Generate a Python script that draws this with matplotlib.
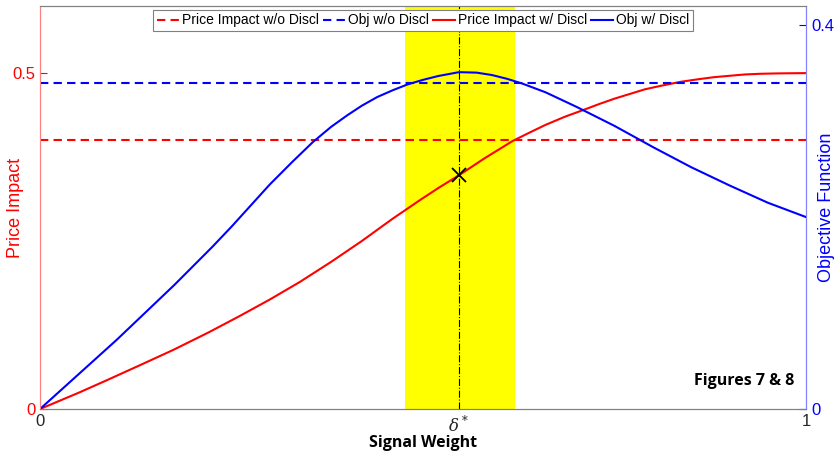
import matplotlib.pyplot as plt
import numpy as np

plt.rcParams['font.family'] = ['Liberation Sans', 'DejaVu Sans']
plt.rcParams['mathtext.fontset'] = 'dejavuserif'

# curves
w_red = [0, 0.05, 0.0875, 0.13, 0.174, 0.22, 0.26, 0.30, 0.339, 0.38, 0.42,
         0.46, 0.496, 0.52, 0.547, 0.58, 0.617, 0.64, 0.66, 0.685, 0.709, 0.73,
         0.75, 0.77, 0.79, 0.81, 0.836, 0.86, 0.88, 0.90, 0.92, 0.94, 0.96, 0.98, 1.0]
impact_disc = [0, 0.024, 0.043, 0.065, 0.088, 0.114, 0.138, 0.163, 0.189, 0.219,
               0.250, 0.283, 0.311, 0.329, 0.348, 0.373, 0.399, 0.412, 0.423,
               0.435, 0.445, 0.454, 0.462, 0.469, 0.476, 0.481, 0.487, 0.491,
               0.494, 0.496, 0.498, 0.499, 0.4995, 0.4998, 0.5]

w_blue = [0, 0.025, 0.05, 0.075, 0.10, 0.125, 0.15, 0.175, 0.20, 0.225, 0.25,
          0.275, 0.30, 0.33, 0.356, 0.38, 0.401, 0.42, 0.44, 0.46, 0.479, 0.50,
          0.52, 0.547, 0.57, 0.59, 0.61, 0.63, 0.66, 0.70, 0.75, 0.80, 0.85,
          0.90, 0.95, 1.0]
obj_disc = [0, 0.018, 0.036, 0.054, 0.072, 0.091, 0.110, 0.129, 0.149, 0.169,
            0.190, 0.212, 0.234, 0.258, 0.278, 0.294, 0.306, 0.316, 0.325,
            0.332, 0.338, 0.343, 0.347, 0.351, 0.3505, 0.348, 0.344, 0.339,
            0.330, 0.315, 0.295, 0.273, 0.252, 0.233, 0.215, 0.200]

impact_nodisc = 0.4
obj_nodisc = 0.34
delta_star = 0.547
band = [0.4765, 0.62]
xticks = [0, delta_star, 1]
xticklabels = ['0', r'$\delta^*$', '1']

red = '#ff0000'
blue = '#0000ff'

fig = plt.figure(figsize=(8.37, 4.57), dpi=100)
ax = fig.add_axes([0.0478, 0.105, 0.9152, 0.882])
ax2 = ax.twinx()

ax.axvspan(band[0], band[1], color='yellow', lw=0, zorder=0)
ax.axvline(delta_star, color='black', ls='-.', lw=0.8, zorder=1)

l1, = ax.plot([0, 1], [impact_nodisc, impact_nodisc], '--', color=red, lw=1.5, dashes=(4, 2.5))
l3, = ax.plot(w_red, impact_disc, '-', color=red, lw=1.5)
ax.plot(delta_star, np.interp(delta_star, w_red, impact_disc), 'x', color='black',
        ms=10, mew=1.3, zorder=5)
l2, = ax2.plot([0, 1], [obj_nodisc, obj_nodisc], '--', color=blue, lw=1.5, dashes=(4, 2.5))
l4, = ax2.plot(w_blue, obj_disc, '-', color=blue, lw=1.5)

ax.set_xlim(0, 1)
ax.set_ylim(0, 0.6)
ax2.set_ylim(0, 0.42)

ax.set_yticks([0, 0.5])
ax.set_yticklabels(['0', '0.5'])
ax2.set_yticks([0, 0.4])
ax2.set_yticklabels(['0', '0.4'])
ax.set_xticks(xticks)
ax.set_xticklabels(xticklabels)

ax.tick_params(axis='y', direction='in', colors=red, labelsize=12, length=5)
ax2.tick_params(axis='y', direction='in', colors=blue, labelsize=12, length=5)
ax.tick_params(axis='x', direction='in', colors='#262626', labelsize=12, length=0)

for a in (ax, ax2):
    a.spines['top'].set_color('#808080')
    a.spines['bottom'].set_color('#808080')
    a.spines['left'].set_color('#ff8080')
    a.spines['right'].set_color('#8080ff')

ax.set_ylabel('Price Impact', color=red, fontsize=13)
ax.yaxis.set_label_coords(-0.021, 0.5)
ax2.set_ylabel('Objective Function', color=blue, fontsize=13)
ax2.yaxis.set_label_coords(1.016, 0.5)
ax.set_xlabel('Signal Weight', fontsize=11.5, fontweight='bold', family='Open Sans', labelpad=0)

ax.text(0.985, 0.05, 'Figures 7 & 8', transform=ax.transAxes, ha='right', va='bottom',
        fontsize=11.5, fontweight='bold', family='Open Sans')

leg = ax2.legend([l1, l2, l3, l4],
                 ['Price Impact w/o Discl', 'Obj w/o Discl', 'Price Impact w/ Discl', 'Obj w/ Discl'],
                 loc='upper center', bbox_to_anchor=(0.5, 0.99), ncol=4, fontsize=10,
                 handlelength=1.6, handletextpad=0.2, columnspacing=0.3, borderpad=0.25,
                 fancybox=False, framealpha=1, edgecolor='#808080', borderaxespad=0)
leg.get_frame().set_linewidth(0.8)

fig.savefig('out.png', dpi=100)
